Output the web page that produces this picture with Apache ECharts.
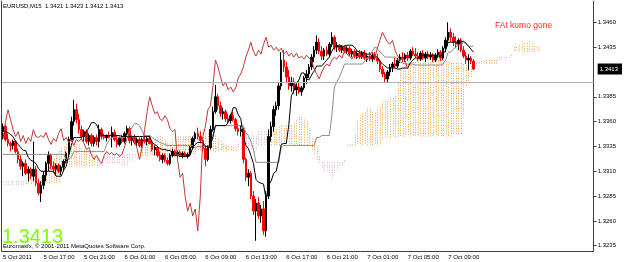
<!DOCTYPE html>
<html><head><meta charset="utf-8">
<script src="https://cdn.jsdelivr.net/npm/echarts@6/dist/echarts.min.js"></script>
<style>html,body{margin:0;padding:0;background:#fff}#c{width:625px;height:262px}</style>
</head><body><div id="c"></div>
<script>
// Prices are stored in pips above 1.3000 (e.g. 413 -> 1.3413)
const BASE = 1.3, PIP = 0.0001;
const symbolName = 'EURUSD,M15';
const note = 'FAt kumo gone';
const copyright = 'Euromasfx, \u00a9 2001-2011 MetaQuotes Software Corp.';

const openP = [350,355,342,338,336,340,330,322,315,318, 308,312,305,312,298,288,296,306,318,326,
315,312,316,310,314,320,328,342,360,372, 362,352,345,350,340,346,338,344,340,352,
345,344,346,344,349,342,337,343,340,348, 353,341,344,339,342,336,342,340,343,338,
332,334,326,322,326,321,318,326,330,327, 329,326,328,325,327,334,343,348,345,341,
333,322,334,352,370,385,376,368,370,363, 361,366,362,353,350,352,322,304,308,285,
270,278,265,272,250,285,345,355,372,376, 396,422,415,405,396,400,392,395,390,394,
404,408,415,425,432,440,431,426,432,428, 438,445,435,437,432,435,431,434,428,431,
426,429,425,429,424,426,423,427,424,421, 413,408,403,410,415,418,416,422,425,423,
427,424,431,428,426,423,429,424,428,425, 427,422,427,430,424,434,442,450,445,440,
438,442,432,426,422,424,421];
const highP = [358,357,348,340,342,341,333,326,320,322, 315,314,340,315,302,300,310,320,330,328,
320,318,318,316,322,330,345,365,382,378, 368,356,352,352,348,348,346,347,357,354,
348,347,350,355,352,346,345,347,350,356, 355,346,347,344,344,344,346,345,346,341,
336,335,330,328,328,324,328,333,332,331, 331,330,330,329,336,345,350,354,350,344,
336,336,356,375,397,388,380,374,372,368, 368,370,364,358,356,354,324,312,310,290,
282,284,276,280,290,352,360,376,380,400, 430,432,420,412,405,404,398,402,396,406,
412,418,428,436,447,444,436,434,436,440, 450,447,440,438,437,437,436,436,433,433,
431,432,431,432,428,430,429,430,428,423, 416,410,412,418,420,424,424,428,430,429,
430,433,435,434,430,431,432,430,431,430, 429,429,433,432,436,445,460,454,449,446,
444,444,436,430,428,426,423];
const lowP = [342,340,335,330,332,328,318,312,305,306, 300,302,300,295,286,279,292,300,310,312,
308,306,308,306,310,318,325,340,356,358, 348,342,340,338,336,335,335,336,334,342,
342,340,343,334,340,334,335,338,338,345, 338,336,337,335,334,334,338,336,337,330,
326,324,320,318,319,316,316,324,325,324, 324,323,324,323,325,332,340,342,338,330,
315,320,332,350,368,372,365,362,360,358, 358,360,350,346,345,318,300,295,282,266,
240,262,258,246,244,282,340,350,366,372, 392,410,400,392,390,388,386,388,386,392,
398,404,412,420,428,428,422,422,426,425, 435,432,430,430,429,429,428,426,425,424,
423,423,423,422,420,421,420,422,418,410, 405,400,399,406,410,414,414,419,420,420,
421,422,426,424,421,421,422,420,423,422, 420,420,424,421,422,430,436,440,436,434,
432,430,424,418,412,418,412];
const closeP = [355,342,338,336,340,330,322,315,318,308, 312,305,312,298,288,296,306,318,326,315,
312,316,310,314,320,328,342,360,372,362, 352,345,350,340,346,338,344,340,352,345,
344,346,344,349,342,337,343,340,348,353, 341,344,339,342,336,342,340,343,338,332,
334,326,322,326,321,318,326,330,327,329, 326,328,325,327,334,343,348,345,341,333,
322,334,352,370,385,376,368,370,363,361, 366,362,353,350,352,322,304,308,285,270,
278,265,272,250,285,345,355,372,376,396, 422,415,405,396,400,392,395,390,394,404,
408,415,425,432,440,431,426,432,428,438, 445,435,437,432,435,431,434,428,431,426,
429,425,429,424,426,423,427,424,421,413, 408,403,410,415,418,416,422,425,423,427,
424,431,428,426,423,429,424,428,425,427, 422,427,430,424,434,442,450,445,440,438,
442,432,426,422,424,421,413];
const tenkan = [350,350,349,347,345,340,337,334,331,331, 324,321,320,318,313,310,310,310,310,310,
310,305,305,305,311,315,326,336,344,344, 344,344,346,350,354,359,359,357,351,346,
346,346,346,346,346,346,346,345,345,345, 345,345,345,345,345,345,345,345,345,339,
337,335,333,332,332,331,331,329,326,326, 325,325,325,325,326,334,337,339,339,339,
335,335,336,345,356,356,356,356,356,359, 365,374,374,367,363,346,336,333,326,318,
302,299,298,297,282,296,300,308,310,322, 337,338,338,357,386,391,399,402,409,409,
403,402,407,411,416,416,416,419,422,425, 431,435,436,436,436,436,437,437,437,435,
431,430,430,429,428,428,426,426,425,421, 418,416,414,414,414,414,413,413,414,414,
414,419,422,424,424,427,427,427,427,427, 427,427,426,426,428,432,440,440,440,440,
440,440,441,439,436,433,430];
const kijun = [327,327,327,327,327,327,327,327,327,327, 327,327,327,327,327,327,327,327,327,327,
327,327,327,327,327,322,322,324,330,330, 330,330,330,330,330,330,330,330,330,330,
330,337,341,344,344,344,344,344,344,346, 350,354,358,358,356,351,346,346,346,344,
342,341,339,338,337,336,336,336,336,336, 336,336,336,336,336,336,333,335,335,335,
335,335,336,345,356,356,356,356,356,356, 356,356,356,356,356,356,349,346,340,332,
319,319,319,319,319,319,319,319,319,319, 335,336,336,336,336,336,336,336,336,336,
336,336,336,336,344,344,346,346,346,346, 366,395,400,405,411,418,418,418,418,418,
418,418,418,421,424,427,431,435,434,430, 428,425,425,425,425,425,423,420,419,418,
418,418,418,417,417,417,417,417,417,417, 417,417,417,417,418,422,430,430,433,435,
437,437,440,439,436,436,436];
const spanA = [295,295,295,295,295,295,295,295,295,298, 300,301,302,302,303,304,306,310,314,318,
322,326,330,333,335,337,338,338,338,337, 336,333,332,330,329,329,325,324,323,322,
320,318,318,318,318,318,318,316,316,316, 319,321,324,330,337,337,337,337,338,340,
342,345,345,344,341,338,338,342,344,345, 345,345,345,345,345,346,348,350,352,352,
351,348,346,346,346,342,340,338,336,335, 335,334,334,333,331,331,331,331,331,331,
331,335,335,337,337,337,345,350,352,355, 356,356,356,356,356,358,361,365,365,362,
360,351,343,340,333,325,311,309,309,308, 301,308,310,314,315,321,336,337,337,347,
361,364,368,369,373,373,370,369,372,374, 380,380,381,383,384,386,399,412,414,416,
418,419,420,420,420,419,419,419,419,420, 420,421,422,422,422,421,420,419,419,419,
419,419,418,417,417,416,416,419,420,421, 421,422,422,422,422,422,422,422,422,422,
423,427,435,435,437,438,439,439,441,439, 436,435,433];
const spanB = [300,300,300,300,300,300,300,300,300,297, 297,297,297,297,297,297,298,298,298,298,
298,298,298,315,315,315,315,315,315,315, 315,315,315,315,315,315,315,315,315,315,
327,327,327,327,327,327,327,327,327,327, 327,327,327,327,325,325,325,325,325,325,
325,325,325,325,325,325,325,325,325,325, 325,325,325,325,325,325,325,330,330,330,
330,330,330,330,330,330,330,330,330,330, 330,330,330,340,346,346,346,346,346,346,
346,350,350,350,350,350,336,336,336,336, 336,336,336,336,336,336,336,336,336,336,
336,336,332,328,322,319,319,319,319,319, 319,319,319,319,319,319,335,336,336,336,
336,336,336,336,336,336,336,336,336,336, 344,344,344,344,344,344,345,345,345,345,
345,345,345,345,345,345,345,345,345,345, 345,345,345,345,345,345,345,345,347,347,
347,347,366,395,400,405,411,418,418,418, 418,418,418,418,418,418,425,425,425,425,
425,425,430,430,430,430,430,430,430,430, 430,430,430];

const tickIndex = [0,16,32,48,64,80,96,112,128,144,160,176];
const tickLabels = ['5 Oct 2011','5 Oct 17:00','5 Oct 21:00','6 Oct 01:00','6 Oct 05:00','6 Oct 09:00',
  '6 Oct 13:00','6 Oct 17:00','6 Oct 21:00','7 Oct 01:00','7 Oct 05:00','7 Oct 09:00'];
const priceTicks = [1.3235,1.3260,1.3285,1.3310,1.3335,1.3360,1.3385,1.3435,1.3460];
const CHIKOU_SHIFT = 26;
const SLOTS = 234;

const toPrice = p => +(BASE + p * PIP).toFixed(5);
const categories = Array.from({length: SLOTS}, (_, i) => String(i));
const labelAt = {};
tickIndex.forEach((t, k) => { labelAt[t] = tickLabels[k]; });
const candleData = openP.map((o, i) => [toPrice(o), toPrice(closeP[i]), toPrice(lowP[i]), toPrice(highP[i])]);
const chikou = closeP.slice(CHIKOU_SHIFT).map(toPrice);
const cloudData = spanA.map((a, i) => [i, toPrice(a), toPrice(spanB[i])]);
const lastI = openP.length - 1;
const f4 = v => v.toFixed(4);
const cur = toPrice(closeP[lastI]);
const header = symbolName + '  ' + [openP[lastI], highP[lastI], lowP[lastI], closeP[lastI]].map(p => f4(toPrice(p))).join(' ');

const FONT = 'Liberation Sans';
const YMIN = 1.32297, YMAX = 1.34815;
const isLabelIdx = (idx) => labelAt[idx] !== undefined;

const chart = echarts.init(document.getElementById('c'), null, {renderer: 'canvas'});
chart.setOption({
  animation: false,
  backgroundColor: '#ffffff',
  grid: {left: 1, top: 1, width: 600, height: 250, show: false},
  xAxis: {
    type: 'category', data: categories, boundaryGap: true,
    axisLine: {lineStyle: {color: '#404040', width: 1}},
    axisTick: {interval: isLabelIdx, alignWithLabel: true, length: 3, lineStyle: {color: '#404040'}},
    axisLabel: {interval: isLabelIdx, formatter: (v, idx) => labelAt[idx] || '', align: 'left',
      margin: 3, fontSize: 6, color: '#000', fontFamily: FONT},
    splitLine: {show: false}
  },
  yAxis: [{
    type: 'value', position: 'right', min: YMIN, max: YMAX,
    axisLine: {show: true, lineStyle: {color: '#404040'}},
    axisTick: {show: true, length: 3, customValues: priceTicks, lineStyle: {color: '#404040'}},
    axisLabel: {customValues: priceTicks.concat([cur]), margin: 4, fontSize: 6, color: '#000', fontFamily: FONT,
      formatter: v => Math.abs(v - cur) < 1e-7 ? '{cur|' + f4(v) + '}' : f4(v),
      rich: {cur: {backgroundColor: '#000', color: '#fff', fontSize: 6, fontFamily: FONT, padding: [3, 4, 2, 2]}}},
    splitLine: {show: false}
  }, {
    type: 'value', position: 'left', min: YMIN, max: YMAX,
    axisLine: {show: true, onZero: false, lineStyle: {color: '#404040'}},
    axisTick: {show: false}, axisLabel: {show: false}, splitLine: {show: false}
  }],
  series: [
    {
      type: 'custom', name: 'Kumo', data: cloudData, z: 1, silent: true,
      encode: {x: 0, y: [1, 2]},
      renderItem: (params, api) => {
        const i = api.value(0), a = api.value(1), b = api.value(2);
        const pa = api.coord([i, a]), pb = api.coord([i, b]);
        const x = Math.round(pa[0]) + 0.5;
        return {type: 'line', silent: true,
          shape: {x1: x, y1: Math.min(pa[1], pb[1]), x2: x, y2: Math.max(pa[1], pb[1])},
          style: {stroke: a >= b ? '#F2A040' : '#DCA8D8', lineWidth: 1, lineDash: [1, 1.5]}};
      }
    },
    {
      type: 'candlestick', name: 'EURUSD', data: candleData, barWidth: 2, z: 2, silent: true,
      itemStyle: {color: '#000000', color0: '#ff0000', borderColor: '#000000', borderColor0: '#ff0000', borderWidth: 1},
      markLine: {silent: true, symbol: 'none', label: {show: false},
        lineStyle: {color: '#b0b0b0', type: 'solid', width: 1}, data: [{yAxis: cur}]}
    },
    {type: 'line', name: 'Kijun', data: kijun.map(toPrice), symbol: 'none', z: 3, silent: true,
      lineStyle: {color: '#8a8a8a', width: 1}},
    {type: 'line', name: 'Tenkan', data: tenkan.map(toPrice), symbol: 'none', z: 3, silent: true,
      lineStyle: {color: '#000000', width: 1}},
    {type: 'line', name: 'Chikou', data: chikou, symbol: 'none', z: 3, silent: true,
      lineStyle: {color: '#c03838', width: 1}}
  ],
  graphic: [
    {type: 'text', x: 3, y: 6, z: 10, style: {text: header, fontSize: 6, fontFamily: FONT, fill: '#000', verticalAlign: 'middle'}},
    {type: 'text', x: 495, y: 26, z: 10, style: {text: note, fontSize: 8.5, fontFamily: FONT, fill: '#ff2a2a', verticalAlign: 'middle'}},
    {type: 'text', x: 2, y: 237, z: 10, style: {text: f4(cur), fontSize: 20, fontFamily: FONT, fill: '#7cfc00', verticalAlign: 'middle'}},
    {type: 'text', x: 3, y: 246.5, z: 11, style: {text: copyright, fontSize: 6, fontFamily: FONT, fill: '#000', verticalAlign: 'middle'}}
  ]
});
</script>
</body></html>
